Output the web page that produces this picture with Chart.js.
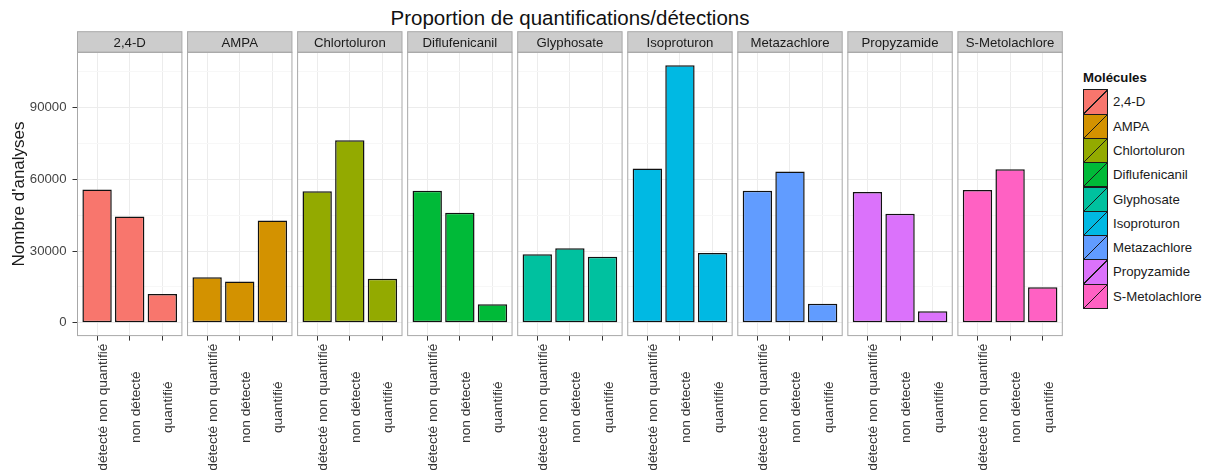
<!DOCTYPE html>
<html>
<head>
<meta charset="utf-8">
<title>Proportion de quantifications/détections</title>
<script src="https://cdn.jsdelivr.net/npm/chart.js@4.4.1/dist/chart.umd.min.js"></script>
<style>
  html, body { margin: 0; padding: 0; background: #ffffff; }
  #wrap { position: relative; width: 1209px; height: 470px; overflow: hidden;
          font-family: "Liberation Sans", Arial, Helvetica, sans-serif; }
  #wrap canvas { position: absolute; top: 0; }
  #title { position: absolute; left: 0; width: 1140px; top: 6px; text-align: center;
           font-size: 20.5px; line-height: 24px; color: #111; white-space: nowrap; }
  #legend-title { position: absolute; left: 1083px; top: 70px; font-size: 13.2px; font-weight: bold;
                  line-height: 16px; color: #111; white-space: nowrap; }
  .key { position: absolute; box-sizing: border-box; border: 1px solid #1a1a1a; }
  .key-label { position: absolute; font-size: 13.2px; color: #1a1a1a; white-space: nowrap; }
</style>
</head>
<body>
<div id="wrap">
  <div id="title">Proportion de quantifications/détections</div>
  <div id="legend-title">Molécules</div>
</div>
<script>
// Molecules (one facet each) and analysis outcome categories
const molecules = ['2,4-D', 'AMPA', 'Chlortoluron', 'Diflufenicanil', 'Glyphosate',
                   'Isoproturon', 'Metazachlore', 'Propyzamide', 'S-Metolachlore'];
const statuses = ['détecté non quantifié', 'non détecté', 'quantifié'];

// Number of analyses per outcome, one value per molecule
const detecteNonQuantifie = [55800, 19000, 55000, 55200, 28700, 64600, 55200, 54700, 55600];
const nonDetecte          = [44500, 17300, 76400, 46000, 31200, 107800, 63300, 45600, 64200];
const quantifie           = [12000, 42800, 18400, 7700, 27600, 29200, 7950, 4800, 14900];

// y-axis labelled ticks and the lighter in-between grid lines
const yTickValues  = [0, 30000, 60000, 90000];
const yMinorValues = [15000, 45000, 75000, 105000];

// Default discrete hue palette, one colour per molecule
const palette = ['#F8766D', '#D39200', '#93AA00', '#00BA38', '#00C19F',
                 '#00B9E3', '#619CFF', '#DB72FB', '#FF61C3'];

// ---- layout ----
const W = 1209, H = 470;
const PANEL_LEFT0 = 77.5, PANEL_PITCH = 110.05, PANEL_W = 104.4;
const STRIP_TOP = 31.7, PANEL_TOP = 52.3, PANEL_BOTTOM = 335.6;
const FONT = '"Liberation Sans", Arial, Helvetica, sans-serif';
const TICK_LEN = 5;

Chart.defaults.font.family = FONT;

// shared y range: 5% padding below zero and above the tallest bar
const allValues = detecteNonQuantifie.concat(nonDetecte, quantifie);
const yPeak = Math.max(...allValues);
const yMin = -0.05 * yPeak, yMax = yPeak * 1.05;
const yGridValues = yTickValues.concat(yMinorValues).sort((a, b) => a - b);

// draws the panel border, the grey facet strip and the centred vertical tick labels
const facetDecor = {
  id: 'facetDecor',
  afterDraw(chart, args, opts) {
    const ctx = chart.ctx, a = chart.chartArea;
    const w = a.right - a.left;
    ctx.save();
    // strip
    ctx.fillStyle = '#cccccc';
    ctx.fillRect(a.left, STRIP_TOP, w, a.top - STRIP_TOP);
    ctx.strokeStyle = '#a8a8a8';
    ctx.lineWidth = 1;
    ctx.strokeRect(a.left, STRIP_TOP, w, a.top - STRIP_TOP);
    ctx.fillStyle = '#1a1a1a';
    ctx.font = '13.2px ' + FONT;
    ctx.textAlign = 'center';
    ctx.textBaseline = 'alphabetic';
    ctx.fillText(opts.label, (a.left + a.right) / 2, (STRIP_TOP + a.top) / 2 + 4.7);
    // panel border
    ctx.strokeRect(a.left, a.top, w, a.bottom - a.top);
    // x tick labels, rotated and centred in the label band
    const xs = chart.scales.x;
    ctx.font = '13.7px ' + FONT;
    ctx.fillStyle = '#333333';
    let maxW = 0;
    statuses.forEach(s => { maxW = Math.max(maxW, ctx.measureText(s).width); });
    const cy = a.bottom + TICK_LEN + 3 + maxW / 2;
    statuses.forEach((s, k) => {
      const x = xs.getPixelForValue(k + 1);
      ctx.save();
      ctx.translate(x + 10, cy);
      ctx.rotate(-Math.PI / 2);
      ctx.textAlign = 'center';
      ctx.textBaseline = 'alphabetic';
      ctx.fillText(s, 0, 0);
      ctx.restore();
    });
    ctx.restore();
  }
};

const wrap = document.getElementById('wrap');

molecules.forEach((mol, i) => {
  const panelLeft = PANEL_LEFT0 + i * PANEL_PITCH;
  const first = i === 0;
  const canvasLeft = first ? 0 : Math.floor(panelLeft) - 3;
  const canvasW = first ? Math.ceil(panelLeft + PANEL_W) + 3 : 110;
  const padLeft = first ? 0 : panelLeft - canvasLeft;
  const padRight = canvasW - (panelLeft - canvasLeft) - PANEL_W;

  const canvas = document.createElement('canvas');
  canvas.width = canvasW;
  canvas.height = H;
  canvas.style.left = canvasLeft + 'px';
  canvas.style.width = canvasW + 'px';
  canvas.style.height = H + 'px';
  wrap.appendChild(canvas);

  const values = [detecteNonQuantifie[i], nonDetecte[i], quantifie[i]];

  new Chart(canvas, {
    type: 'bar',
    data: {
      datasets: [{
        label: mol,
        data: values.map((v, k) => ({ x: k + 1, y: v })),
        backgroundColor: palette[i],
        borderColor: '#111111',
        borderWidth: 1.5,
        borderSkipped: false,
        categoryPercentage: 1.0,
        barPercentage: 0.9
      }]
    },
    options: {
      responsive: false,
      animation: false,
      devicePixelRatio: 1,
      layout: { padding: { top: PANEL_TOP, left: padLeft, right: padRight, bottom: 0 } },
      plugins: {
        legend: { display: false },
        tooltip: { enabled: false },
        facetDecor: { label: mol }
      },
      scales: {
        x: {
          type: 'linear',
          offset: false,
          min: 1 - 0.6,
          max: statuses.length + 0.6,
          afterBuildTicks: axis => { axis.ticks = statuses.map((s, k) => ({ value: k + 1 })); },
          afterFit: axis => { axis.height = H - PANEL_BOTTOM; },
          ticks: { display: false },
          grid: { offset: false, color: '#ececec', lineWidth: 1, drawTicks: true,
                  tickLength: TICK_LEN, tickColor: '#333333' },
          border: { display: false }
        },
        y: {
          type: 'linear',
          min: yMin,
          max: yMax,
          afterBuildTicks: axis => { axis.ticks = yGridValues.map(v => ({ value: v })); },
          afterFit: axis => { axis.width = first ? PANEL_LEFT0 : 0; },
          ticks: {
            display: first,
            autoSkip: false,
            padding: 6,
            color: '#444444',
            font: { size: 13.2 },
            callback: v => (yTickValues.includes(v) ? String(v) : '')
          },
          grid: {
            color: c => (yTickValues.includes(c.tick.value) ? '#ececec' : '#f7f7f7'),
            lineWidth: 1,
            drawTicks: first,
            tickLength: TICK_LEN,
            tickColor: c => (yTickValues.includes(c.tick.value) ? '#333333' : 'rgba(0,0,0,0)')
          },
          border: { display: false },
          title: {
            display: first,
            text: "Nombre d'analyses",
            color: '#1a1a1a',
            font: { size: 17 },
            padding: { top: 9, bottom: 0 }
          }
        }
      }
    },
    plugins: [facetDecor]
  });
});

// legend: one keyed swatch per molecule
const KEY_LEFT = 1083, KEY_TOP = 89.3, KEY_STEP = 24.3, KEY_W = 25;
molecules.forEach((mol, i) => {
  const c = palette[i];
  const top = KEY_TOP + i * KEY_STEP;
  const key = document.createElement('div');
  key.className = 'key';
  key.style.left = KEY_LEFT + 'px';
  key.style.top = top + 'px';
  key.style.width = KEY_W + 'px';
  key.style.height = (KEY_STEP + 1) + 'px';
  key.style.background = 'linear-gradient(to bottom right, ' + c + ' 0, ' + c + ' calc(50% - 0.7px), #1a1a1a calc(50% - 0.7px), #1a1a1a calc(50% + 0.7px), ' + c + ' calc(50% + 0.7px), ' + c + ' 100%)';
  wrap.appendChild(key);

  const lab = document.createElement('div');
  lab.className = 'key-label';
  lab.textContent = mol;
  lab.style.left = (KEY_LEFT + 30) + 'px';
  lab.style.top = top + 'px';
  lab.style.lineHeight = (KEY_STEP + 1) + 'px';
  wrap.appendChild(lab);
});
</script>
</body>
</html>
